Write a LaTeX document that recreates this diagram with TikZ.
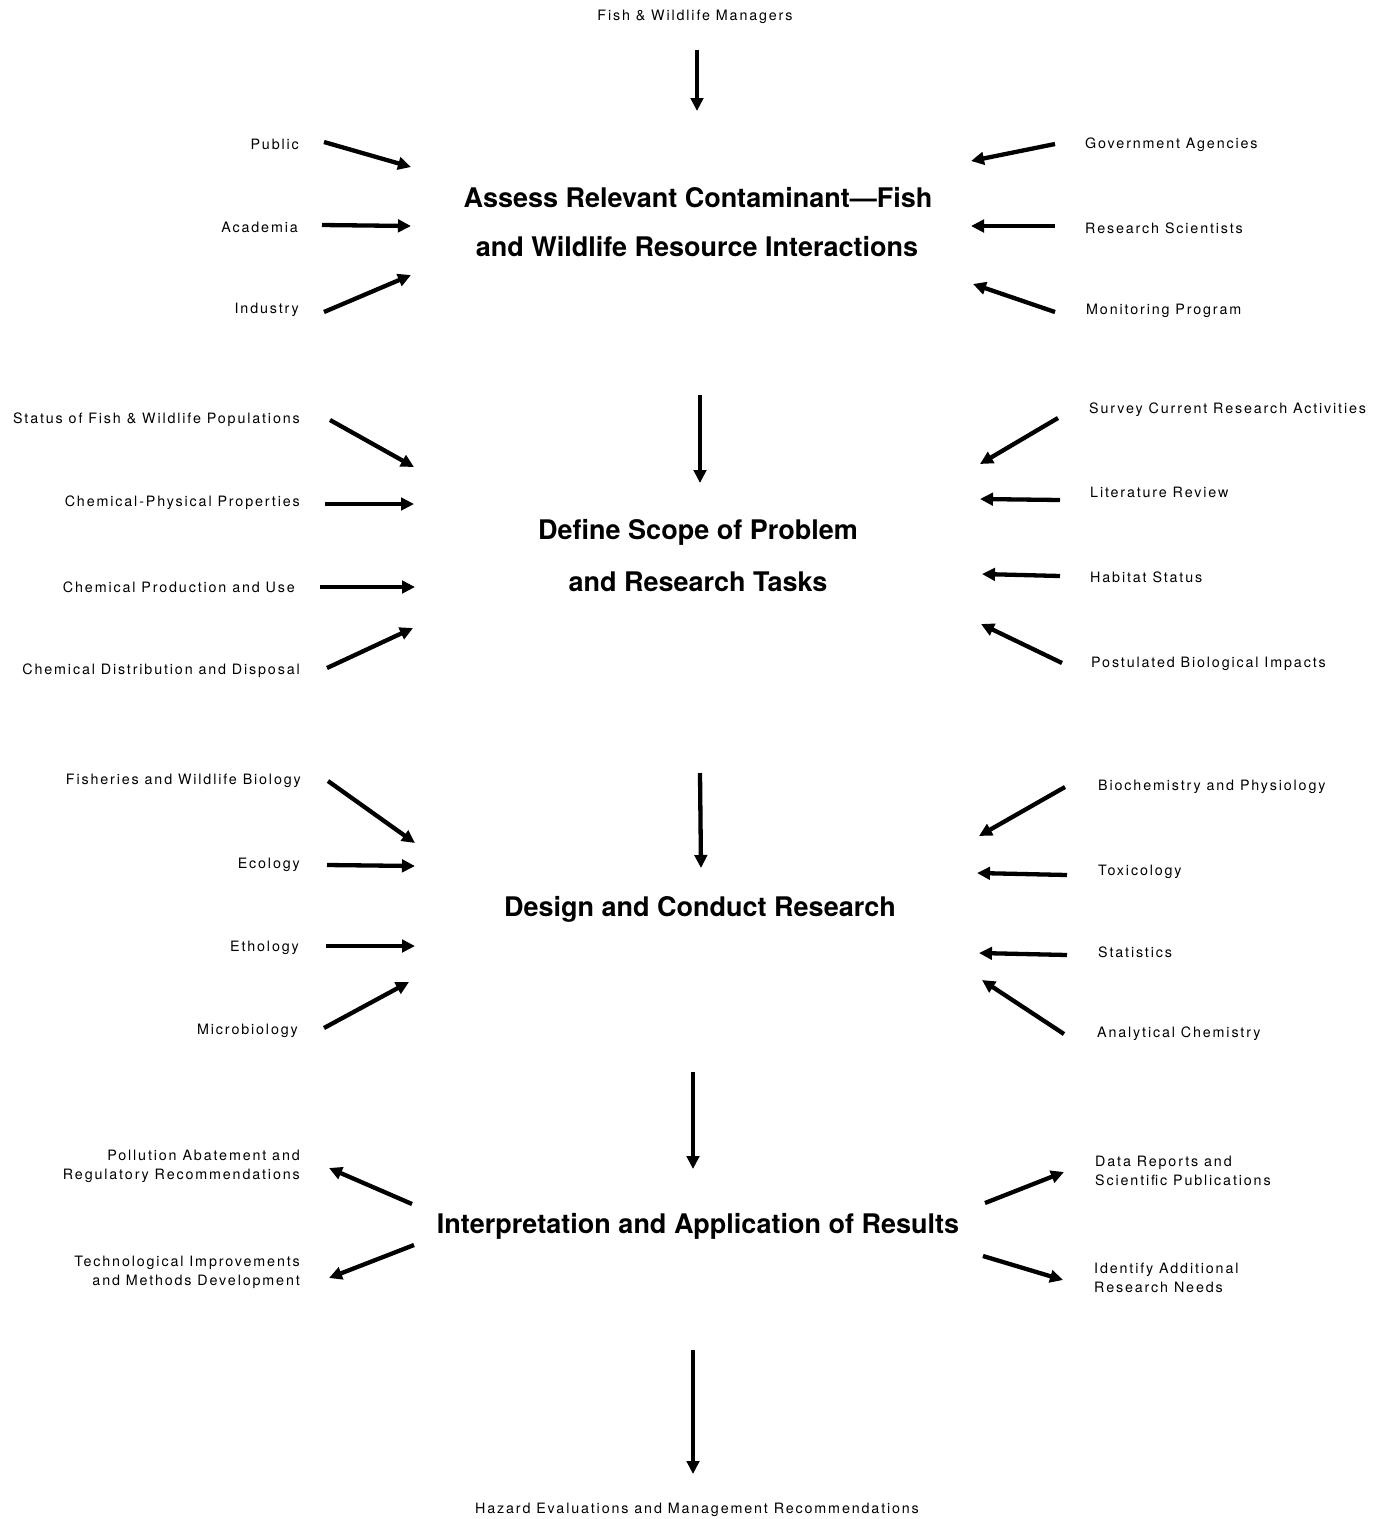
\documentclass[tikz,border=0pt]{standalone}
\usepackage{fontspec}
\setmainfont{TeX Gyre Heros}
\newfontfamily\lblfont[LetterSpace=13]{TeX Gyre Heros}
\newfontfamily\ttlfont{TeX Gyre Heros}
\usetikzlibrary{arrows.meta}
\tikzset{
  lbl/.style={font=\lblfont\fontsize{14.3}{19}\selectfont, inner sep=0pt, align=right},
  lblL/.style={lbl, anchor=east, align=right},
  lblR/.style={lbl, anchor=west, align=left},
  ttl/.style={font=\ttlfont\bfseries\fontsize{27}{30}\selectfont, inner sep=0pt},
  arr/.style={line width=4.3pt, -{Triangle[length=13pt,width=12.5pt]}},
}
\begin{document}
\begin{tikzpicture}[x=1pt,y=-1pt]
\useasboundingbox[fill=white] (0,0) rectangle (1383,1519);

% top / bottom
\node[lbl] (top) at (695,17) {Fish \& Wildlife Managers};
\node[lbl] (bot) at (697,1510) {Hazard Evaluations and Management Recommendations};

% titles
\node[ttl] (t1a) at (698,198) {Assess Relevant Contaminant—Fish};
\node[ttl] (t1b) at (697,247) {and Wildlife Resource Interactions};
\node[ttl] (t2a) at (698,532) {Define Scope of Problem};
\node[ttl] (t2b) at (698,582) {and Research Tasks};
\node[ttl] (t3) at (700,909) {Design and Conduct Research};
\node[ttl] (t4) at (698,1226) {Interpretation and Application of Results};

% group 1
\node[lblL] (pub) at (299,144) {Public};
\node[lblL] (aca) at (298,227) {Academia};
\node[lblL] (ind) at (299,310) {Industry};
\node[lblR] (gov) at (1085,145) {Government Agencies};
\node[lblR] (res) at (1085,228) {Research Scientists};
\node[lblR] (mon) at (1086,311) {Monitoring Program};

% group 2
\node[lblL] (sta) at (300,420) {Status of Fish \& Wildlife Populations};
\node[lblL] (chp) at (300,503) {Chemical-Physical Properties};
\node[lblL] (cpu) at (295,587) {Chemical Production and Use};
\node[lblL] (cdd) at (300,671) {Chemical Distribution and Disposal};
\node[lblR] (sur) at (1089,410) {Survey Current Research Activities};
\node[lblR] (lit) at (1090,492) {Literature Review};
\node[lblR] (hab) at (1090,577) {Habitat Status};
\node[lblR] (pos) at (1091,664) {Postulated Biological Impacts};

% group 3
\node[lblL] (fwb) at (301,781) {Fisheries and Wildlife Biology};
\node[lblL] (eco) at (300,865) {Ecology};
\node[lblL] (eth) at (299,948) {Ethology};
\node[lblL] (mic) at (298,1031) {Microbiology};
\node[lblR] (bio) at (1098,787) {Biochemistry and Physiology};
\node[lblR] (tox) at (1098,872) {Toxicology};
\node[lblR] (stt) at (1098,952) {Statistics};
\node[lblR] (ana) at (1097,1034) {Analytical Chemistry};

% group 4
\node[lblL] (pol) at (300,1166) {Pollution Abatement and\\Regulatory Recommendations};
\node[lblL] (tec) at (300,1272) {Technological Improvements\\and Methods Development};
\node[lblR] (dat) at (1095,1171) {Data Reports and\\Scientific Publications};
\node[lblR] (ide) at (1094,1278) {Identify Additional\\Research Needs};

% arrow end coordinates
\coordinate (v0s) at (697,50);   \coordinate (v0e) at (697,111);
\coordinate (v1s) at (700,395);  \coordinate (v1e) at (700,483);
\coordinate (v2s) at (700,773);  \coordinate (v2e) at (701,868);
\coordinate (v3s) at (693,1072); \coordinate (v3e) at (693,1169);
\coordinate (v4s) at (693,1350); \coordinate (v4e) at (693,1474);

\coordinate (a1s) at (324,142);  \coordinate (a1e) at (411,167);
\coordinate (a2s) at (322,225);  \coordinate (a2e) at (411,226);
\coordinate (a3s) at (324,312);  \coordinate (a3e) at (411,275);
\coordinate (b1s) at (1055,144); \coordinate (b1e) at (971,161);
\coordinate (b2s) at (1055,226); \coordinate (b2e) at (971,226);
\coordinate (b3s) at (1055,312); \coordinate (b3e) at (973,284);

\coordinate (c1s) at (330,420);  \coordinate (c1e) at (414,467);
\coordinate (c2s) at (325,504);  \coordinate (c2e) at (414,504);
\coordinate (c3s) at (320,587);  \coordinate (c3e) at (415,587);
\coordinate (c4s) at (327,668);  \coordinate (c4e) at (413,628);
\coordinate (d1s) at (1058,418); \coordinate (d1e) at (980,464);
\coordinate (d2s) at (1060,500); \coordinate (d2e) at (980,499);
\coordinate (d3s) at (1060,576); \coordinate (d3e) at (982,574);
\coordinate (d4s) at (1062,663); \coordinate (d4e) at (981,624);

\coordinate (e1s) at (328,781);  \coordinate (e1e) at (415,843);
\coordinate (e2s) at (327,865);  \coordinate (e2e) at (415,866);
\coordinate (e3s) at (326,946);  \coordinate (e3e) at (415,946);
\coordinate (e4s) at (324,1028); \coordinate (e4e) at (409,982);
\coordinate (f1s) at (1065,787); \coordinate (f1e) at (979,836);
\coordinate (f2s) at (1067,875); \coordinate (f2e) at (977,873);
\coordinate (f3s) at (1067,955); \coordinate (f3e) at (979,953);
\coordinate (f4s) at (1064,1034);\coordinate (f4e) at (982,980);

\coordinate (g1s) at (412,1204); \coordinate (g1e) at (329,1168);
\coordinate (g2s) at (414,1245); \coordinate (g2e) at (329,1278);
\coordinate (h1s) at (985,1203); \coordinate (h1e) at (1064,1172);
\coordinate (h2s) at (983,1256); \coordinate (h2e) at (1063,1280);

\foreach \p in {v0,v1,v2,v3,v4,a1,a2,a3,b1,b2,b3,c1,c2,c3,c4,d1,d2,d3,d4,e1,e2,e3,e4,f1,f2,f3,f4,g1,g2,h1,h2}
  \draw[arr] (\p s) -- (\p e);
\end{tikzpicture}
\end{document}
